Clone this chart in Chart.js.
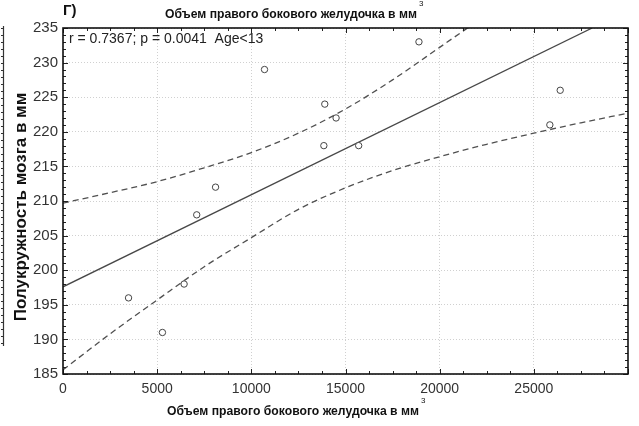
<!DOCTYPE html>
<html>
<head>
<meta charset="utf-8">
<script src="https://cdn.jsdelivr.net/npm/chart.js@4.4.1/dist/chart.umd.min.js"></script>
<style>
  html, body { margin: 0; padding: 0; background: #fff; }
  #wrap { width: 639px; height: 426px; position: relative; }
</style>
</head>
<body>
<div id="wrap"><canvas id="chart"></canvas></div>
<script>
// observed points (volume, head half-circumference)
const pointX = [3480, 5280, 6430, 7100, 8100, 10700, 13850, 13900, 14500, 15700, 18900, 25850, 26400];
const pointY = [196, 191, 198, 208, 212, 229, 218, 224, 222, 218, 233, 221, 226];

// regression line, read at both ends
const fitX = [0, 28100];
const fitY = [197.6, 235];

// 95% confidence band
const upperX = [0, 2500, 5000, 7500, 10000, 12500, 15000, 17500, 20000, 22000];
const upperY = [209.7, 211.2, 212.8, 214.8, 217.0, 219.8, 223.3, 227.5, 232.2, 236.0];
const lowerX = [0, 2500, 5000, 7500, 10000, 12500, 15000, 17500, 20000, 22500, 25000, 27500, 30000];
const lowerY = [185.6, 190.8, 195.7, 200.5, 204.7, 208.8, 211.9, 214.4, 216.4, 218.2, 219.8, 221.3, 222.7];

const xTickLabels = [0, 5000, 10000, 15000, 20000, 25000];
const yTickLabels = [185, 190, 195, 200, 205, 210, 215, 220, 225, 230, 235];

const titleText = "Объем правого бокового желудочка в мм";
const yTitleText = "Полукружность мозга в мм";
const noteText = "r = 0.7367; p = 0.0041  Age<13";
const panelText = "Г)";

const FONT = "'Liberation Sans', Arial, sans-serif";
const pairs = (xs, ys) => xs.map((x, i) => ({ x: x, y: ys[i] }));

// draws frame, inward ticks and the texts
const decor = {
  id: "decor",
  afterDraw(chart) {
    const ctx = chart.ctx;
    const a = chart.chartArea;
    const sx = chart.scales.x, sy = chart.scales.y;
    ctx.save();

    // inward ticks on all four sides
    ctx.strokeStyle = "#222";
    ctx.lineWidth = 1;
    ctx.beginPath();
    for (let v = 0; v <= 30000; v += 1250) {
      const px = Math.round(sx.getPixelForValue(v)) + 0.5;
      const len = v % 5000 === 0 ? 5 : 3;
      ctx.moveTo(px, a.bottom); ctx.lineTo(px, a.bottom - len);
      ctx.moveTo(px, a.top); ctx.lineTo(px, a.top + len);
    }
    for (let v = 185; v <= 235; v += 1) {
      const py = Math.round(sy.getPixelForValue(v)) + 0.5;
      const len = v % 5 === 0 ? 5 : 3;
      ctx.moveTo(a.left, py); ctx.lineTo(a.left + len, py);
      ctx.moveTo(a.right, py); ctx.lineTo(a.right - len, py);
    }
    ctx.stroke();

    // frame
    ctx.strokeStyle = "#111";
    ctx.lineWidth = 1.6;
    ctx.strokeRect(a.left, a.top, a.right - a.left, a.bottom - a.top);

    // leftover edge of neighbouring panel
    ctx.lineWidth = 1.2;
    ctx.strokeStyle = "#333";
    ctx.beginPath();
    ctx.moveTo(3.5, 26); ctx.lineTo(3.5, 346);
    ctx.stroke();
    ctx.lineWidth = 1;
    ctx.beginPath();
    for (let y = 28; y < 346; y += 7) { ctx.moveTo(1, y + 0.5); ctx.lineTo(3.5, y + 0.5); }
    ctx.stroke();

    ctx.fillStyle = "#111";
    // panel letter
    ctx.font = "bold 15px " + FONT;
    ctx.textAlign = "left";
    ctx.textBaseline = "middle";
    ctx.fillText(panelText, 63, 11);

    // top and bottom titles with superscript 3
    const drawTitle = (cx, cy) => {
      ctx.font = "bold 13px " + FONT;
      const raw = ctx.measureText(titleText).width;
      const w = 252;
      const x0 = cx - w / 2;
      ctx.save();
      ctx.translate(x0, cy);
      ctx.scale(w / raw, 1);
      ctx.textAlign = "left";
      ctx.textBaseline = "middle";
      ctx.fillText(titleText, 0, 0);
      ctx.restore();
      ctx.font = "8px " + FONT;
      ctx.textAlign = "left";
      ctx.textBaseline = "middle";
      ctx.fillText("3", x0 + w + 2, cy - 10);
    };
    drawTitle(291, 14);
    drawTitle(293, 411);

    // y title
    ctx.save();
    ctx.translate(21, 207);
    ctx.rotate(-Math.PI / 2);
    ctx.font = "bold 17px " + FONT;
    ctx.textAlign = "center";
    ctx.textBaseline = "middle";
    ctx.fillText(yTitleText, 0, 0);
    ctx.restore();

    // statistics note
    ctx.font = "14px " + FONT;
    ctx.textAlign = "left";
    ctx.textBaseline = "middle";
    ctx.fillStyle = "#222";
    ctx.fillText(noteText, a.left + 6, a.top + 11);

    ctx.restore();
  }
};

new Chart(document.getElementById("chart"), {
  type: "scatter",
  data: {
    datasets: [
      {
        label: "points",
        data: pairs(pointX, pointY),
        pointStyle: "circle",
        pointRadius: 3.2,
        pointBorderWidth: 1,
        pointBorderColor: "#444",
        pointBackgroundColor: "#fff",
        showLine: false,
        order: 0
      },
      {
        label: "fit",
        type: "line",
        data: pairs(fitX, fitY),
        borderColor: "#484848",
        borderWidth: 1.3,
        pointRadius: 0,
        fill: false,
        order: 1
      },
      {
        label: "upper",
        type: "line",
        data: pairs(upperX, upperY),
        borderColor: "#505050",
        borderWidth: 1.3,
        borderDash: [6, 4],
        cubicInterpolationMode: "monotone",
        pointRadius: 0,
        fill: false,
        order: 2
      },
      {
        label: "lower",
        type: "line",
        data: pairs(lowerX, lowerY),
        borderColor: "#505050",
        borderWidth: 1.3,
        borderDash: [6, 4],
        cubicInterpolationMode: "monotone",
        pointRadius: 0,
        fill: false,
        order: 3
      }
    ]
  },
  options: {
    responsive: true,
    maintainAspectRatio: false,
    animation: false,
    devicePixelRatio: 1,
    layout: { padding: { top: 28, right: 11, left: 0, bottom: 0 } },
    plugins: {
      legend: { display: false },
      tooltip: { enabled: false },
      title: { display: false }
    },
    scales: {
      x: {
        type: "linear",
        min: 0,
        max: 30000,
        afterFit: s => { s.height = 52; },
        afterBuildTicks: s => { s.ticks = xTickLabels.map(v => ({ value: v })); },
        ticks: {
          padding: 7,
          color: "#333",
          font: { family: FONT, size: 14 },
          maxRotation: 0,
          callback: v => String(v)
        },
        grid: { color: "#d0d0d0", lineWidth: 1, drawTicks: false },
        border: { display: false, dash: [1, 2] }
      },
      y: {
        type: "linear",
        min: 185,
        max: 235,
        afterFit: s => { s.width = 63; },
        afterBuildTicks: s => { s.ticks = yTickLabels.map(v => ({ value: v })); },
        ticks: {
          padding: 5,
          color: "#333",
          font: { family: FONT, size: 15 },
          callback: v => String(v)
        },
        grid: { color: "#d0d0d0", lineWidth: 1, drawTicks: false },
        border: { display: false, dash: [1, 2] }
      }
    }
  },
  plugins: [decor]
});
</script>
</body>
</html>
